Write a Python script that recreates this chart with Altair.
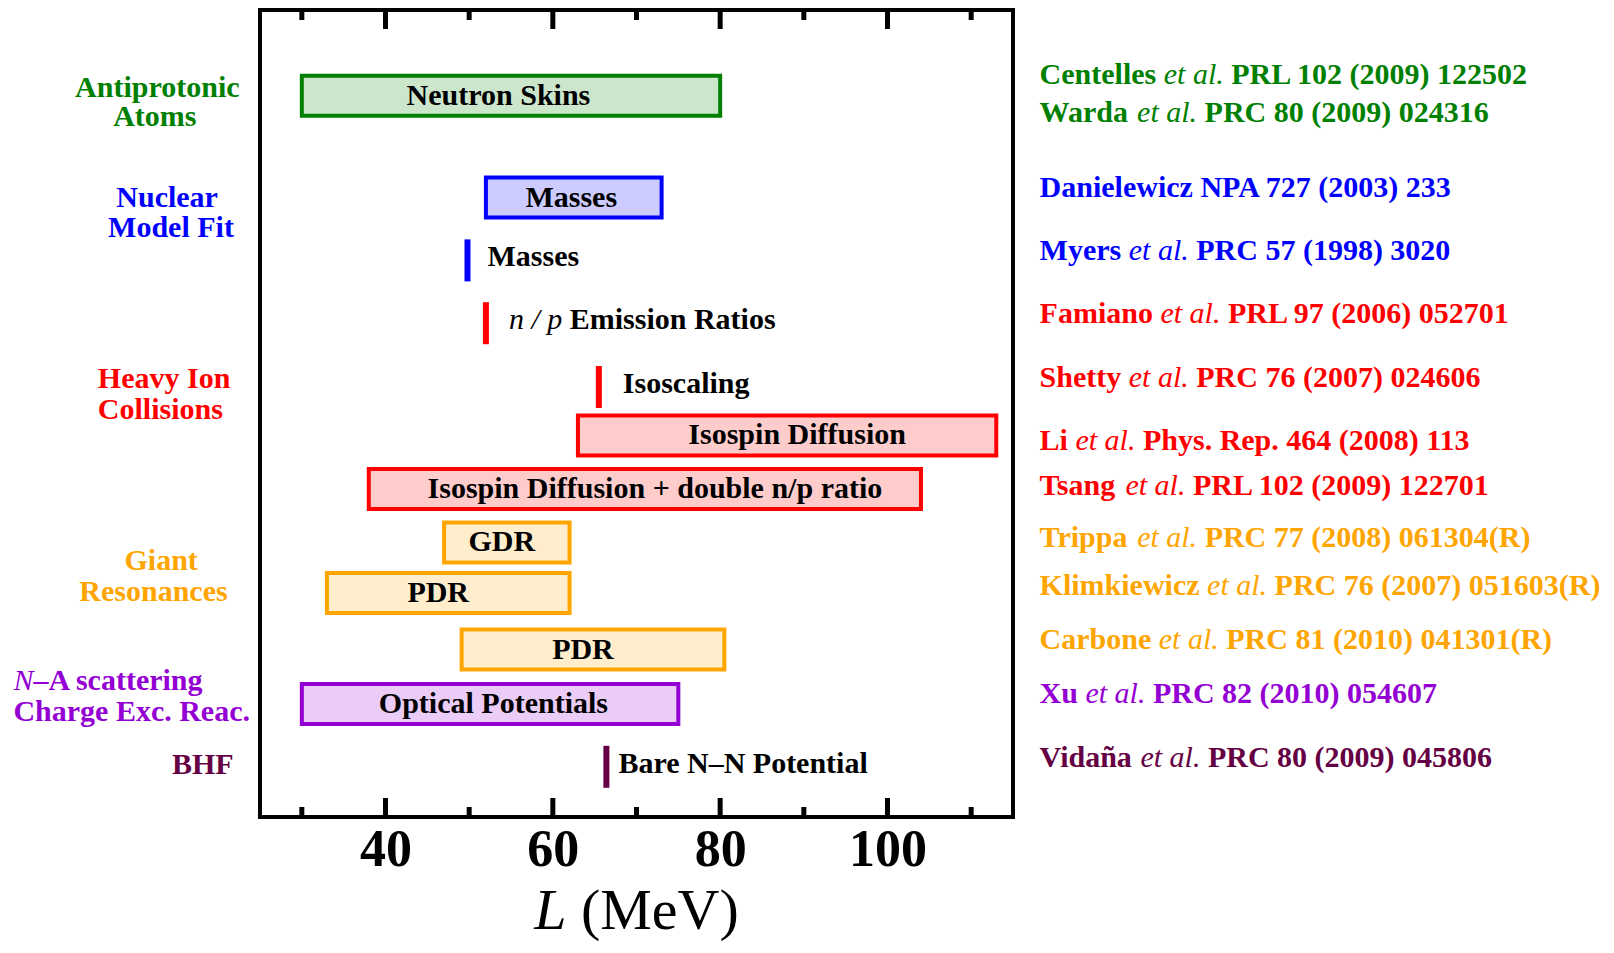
import altair as alt
import pandas as pd

# ------------------------------------------------------------------ data
X_MIN, X_MAX = 25, 115

# hatched boxes: L ranges (MeV)
box_text = ["Neutron Skins", "Masses", "Isospin Diffusion",
            "Isospin Diffusion + double n/p ratio", "GDR", "PDR", "PDR",
            "Optical Potentials"]
box_lo = [30.0, 52.0, 63.0, 38.0, 47.0, 33.0, 49.1, 30.0]
box_hi = [80.0, 73.0, 113.0, 104.0, 62.0, 62.0, 80.5, 75.0]
box_grp = ["ap", "nm", "hic", "hic", "gr", "gr", "gr", "na"]

# single-value results (thin vertical bars)
bar_prefix = ["", "n / p", "", ""]
bar_text = ["Masses", "Emission Ratios", "Isoscaling", "Bare N–N Potential"]
bar_at = [49.8, 52.0, 65.5, 66.4]
bar_grp = ["nm", "hic", "hic", "bhf"]

# category labels on the left
cat_prefix = ["", "", "", "", "", "", "", "", "N", "", ""]
cat_text = ["Antiprotonic", "Atoms", "Nuclear", "Model Fit", "Heavy Ion",
            "Collisions", "Giant", "Resonances", "–A scattering",
            "Charge Exc. Reac.", "BHF"]
cat_grp = ["ap", "ap", "nm", "nm", "hic", "hic", "gr", "gr", "na", "na", "bhf"]

# references on the right
ref_author = ["Centelles", "Warda", "Danielewicz NPA 727 (2003) 233", "Myers",
              "Famiano", "Shetty", "Li", "Tsang", "Trippa", "Klimkiewicz",
              "Carbone", "Xu", "Vidaña"]
ref_etal = [True, True, False, True, True, True, True, True, True, True,
            True, True, True]
ref_rest = ["PRL 102 (2009) 122502", "PRC 80 (2009) 024316", "",
            "PRC 57 (1998) 3020", "PRL 97 (2006) 052701",
            "PRC 76 (2007) 024606", "Phys. Rep. 464 (2008) 113",
            "PRL 102 (2009) 122701", "PRC 77 (2008) 061304(R)",
            "PRC 76 (2007) 051603(R)", "PRC 81 (2010) 041301(R)",
            "PRC 82 (2010) 054607", "PRC 80 (2009) 045806"]
ref_grp = ["ap", "ap", "nm", "nm", "hic", "hic", "hic", "hic", "gr", "gr",
           "gr", "na", "bhf"]

major_ticks = [40, 60, 80, 100]
minor_ticks = [30, 50, 70, 90, 110]

# ------------------------------------------------------------------ layout
W, H = 753, 807
PAD_L, PAD_T = 252, 2
ORG_X, ORG_Y = PAD_L + 8, PAD_T + 8          # page position of plot corner
PX = W / (X_MAX - X_MIN)
FS = 30
BOX_HALF = 20
BAR_HALF = 21

box_row = [85.7, 187.6, 425.4, 479.0, 532.4, 583.0, 639.5, 694.0]
box_label_at = [53.5, 62.2, 89.2, 72.2, 53.9, 46.3, 63.6, 52.9]
bar_row = [250.4, 313.2, 377.0, 756.8]
bar_label_gap = [20, 23, 24, 12]
cat_left = [75.1, 113.2, 116.3, 108.1, 97.8, 97.8, 124.5, 79.3, 13.4, 13.4, 171.9]
cat_y = [87.5, 117.3, 197.6, 227.5, 378.8, 409.7, 561, 592, 681.4, 712.3, 765]
ref_left = 1039.6
ref_y = [75.1, 113.2, 188.4, 251.2, 314.0, 377.8, 440.6, 485.8, 538.3,
         585.7, 640.2, 693.8, 757.6]

GRP_DOMAIN = ["ap", "nm", "hic", "gr", "na", "bhf", "k"]
GRP_RANGE = ["#008000", "#0000ff", "#ff0000", "#ffa500", "#9400d3",
             "#660044", "#000000"]

# Times metrics (1/1000 em) for placing mixed-style text runs
BOLD = {' ': 250, '(': 333, ')': 333, '.': 250, '/': 278, '+': 570, '–': 500,
        'A': 722, 'B': 667, 'C': 722, 'D': 722, 'E': 667, 'F': 611, 'G': 778,
        'H': 778, 'I': 389, 'K': 778, 'L': 667, 'M': 944, 'N': 722, 'P': 611,
        'R': 722, 'S': 556, 'T': 667, 'V': 722, 'W': 1000, 'X': 722,
        'a': 500, 'b': 556, 'c': 444, 'd': 556, 'e': 444, 'f': 333, 'g': 500,
        'h': 556, 'i': 278, 'j': 333, 'k': 556, 'l': 278, 'm': 833, 'n': 556,
        'o': 500, 'p': 556, 'r': 444, 's': 389, 't': 333, 'u': 556, 'v': 500,
        'w': 722, 'x': 500, 'y': 500, 'z': 444, 'ñ': 556}
ITAL = {' ': 250, '.': 250, '/': 278, 'a': 500, 'e': 444, 'l': 278, 'n': 500,
        'p': 500, 't': 278, 'N': 667, 'L': 556}
ROMAN = {' ': 250, '(': 333, ')': 333, 'M': 889, 'e': 444, 'V': 722}


def tw(s, table, size):
    return sum(table.get(c, 500) for c in s) * size / 1000.0


def xd(px_page):
    return X_MIN + (px_page - ORG_X) / PX


def yd(py_page):
    return py_page - ORG_Y


# ------------------------------------------------------------------ tables
boxes = pd.DataFrame({
    "lo": box_lo, "hi": box_hi, "g": box_grp, "label": box_text,
    "lx": box_label_at,
    "top": [r - BOX_HALF for r in box_row],
    "bot": [r + BOX_HALF for r in box_row],
    "row": box_row,
})
bars = pd.DataFrame({
    "at": bar_at, "g": bar_grp,
    "top": [r - BAR_HALF for r in bar_row],
    "bot": [r + BAR_HALF for r in bar_row],
})

bold_rows, ital_rows = [], []

# labels beside the single-value bars
for pre, txt, at, row, gap in zip(bar_prefix, bar_text, bar_at, bar_row,
                                  bar_label_gap):
    x0 = ORG_X + (at - X_MIN) * PX + gap
    if pre:
        ital_rows.append({"t": pre, "x": xd(x0), "y": row - 3, "g": "k"})
        x0 += tw(pre + " ", ITAL, FS)
    bold_rows.append({"t": txt, "x": xd(x0), "y": row - 3, "g": "k"})

# category labels
for pre, txt, g, xl, yc in zip(cat_prefix, cat_text, cat_grp, cat_left, cat_y):
    x0 = xl
    if pre:
        ital_rows.append({"t": pre, "x": xd(x0), "y": yd(yc), "g": g})
        x0 += tw(pre, ITAL, FS)
    bold_rows.append({"t": txt, "x": xd(x0), "y": yd(yc), "g": g})

# references
for a, e, r, g, yc in zip(ref_author, ref_etal, ref_rest, ref_grp, ref_y):
    x0 = ref_left
    bold_rows.append({"t": a, "x": xd(x0), "y": yd(yc), "g": g})
    if e:
        x0 += tw(a + " ", BOLD, FS)
        ital_rows.append({"t": "et al.", "x": xd(x0), "y": yd(yc), "g": g})
        x0 += tw("et al. ", ITAL, FS)
        bold_rows.append({"t": r, "x": xd(x0), "y": yd(yc), "g": g})

# axis title  "L (MeV)"  (alphabetic baseline)
TFS = 58
title_cx, title_base = ORG_X + W / 2, 929
t_w = tw("L", ITAL, TFS) + tw(" (MeV)", ROMAN, TFS)
tx0 = title_cx - t_w / 2
title_ital = pd.DataFrame([{"t": "L", "x": xd(tx0), "y": yd(title_base), "g": "k"}])
title_rom = pd.DataFrame([{"t": "(MeV)", "x": xd(tx0 + tw("L ", ITAL, TFS)),
                           "y": yd(title_base), "g": "k"}])

bold_df = pd.DataFrame(bold_rows)
ital_df = pd.DataFrame(ital_rows)
ticks_major = pd.DataFrame({"v": major_ticks})
ticks_minor = pd.DataFrame({"v": minor_ticks})

# ------------------------------------------------------------------ scales
xs = alt.Scale(domain=[X_MIN, X_MAX], nice=False, zero=False)
ys = alt.Scale(domain=[0, H], reverse=True, nice=False, zero=False)
cs = alt.Scale(domain=GRP_DOMAIN, range=GRP_RANGE)
xa = alt.Axis(values=major_ticks, ticks=False, tickSize=0, domain=False,
              grid=False, labelFontSize=52, labelFontWeight="bold",
              labelFont="Liberation Serif", labelColor="black",
              labelPadding=7, labelOverlap=False, title=None)


def X(f):
    return alt.X(f, scale=xs, axis=xa, title=None)


def Y(f):
    return alt.Y(f, scale=ys, axis=None, title=None)


rects = alt.Chart(boxes).mark_rect(strokeWidth=4, fillOpacity=0.2).encode(
    x=X("lo:Q"), x2="hi:Q", y=Y("top:Q"), y2="bot:Q",
    fill=alt.Fill("g:N", scale=cs, legend=None),
    stroke=alt.Stroke("g:N", scale=cs, legend=None),
)
box_labels = alt.Chart(boxes).mark_text(
    font="Liberation Serif", fontSize=FS, fontWeight="bold", align="center",
    baseline="middle", color="black",
).encode(x=X("lx:Q"), y=Y("row:Q"), text="label:N")

bar_rules = alt.Chart(bars).mark_rule(strokeWidth=6).encode(
    x=X("at:Q"), y=Y("top:Q"), y2="bot:Q",
    color=alt.Color("g:N", scale=cs, legend=None),
)


def text_layer(df, size, weight, style, baseline="middle"):
    return alt.Chart(df).mark_text(
        font="Liberation Serif", fontSize=size, fontWeight=weight,
        fontStyle=style, align="left", baseline=baseline,
    ).encode(x=X("x:Q"), y=Y("y:Q"), text="t:N",
             color=alt.Color("g:N", scale=cs, legend=None))


bold_txt = text_layer(bold_df, FS, "bold", "normal")
ital_txt = text_layer(ital_df, FS, "normal", "italic")
title_l = text_layer(title_ital, TFS, "normal", "italic", "alphabetic")
title_r = text_layer(title_rom, TFS, "normal", "normal", "alphabetic")

MAJ, MIN_ = 19, 10
tick_layers = [
    alt.Chart(ticks_major).mark_rule(strokeWidth=5, color="black").encode(
        x=X("v:Q"), y=alt.value(0), y2=alt.value(MAJ)),
    alt.Chart(ticks_major).mark_rule(strokeWidth=5, color="black").encode(
        x=X("v:Q"), y=alt.value(H), y2=alt.value(H - MAJ)),
    alt.Chart(ticks_minor).mark_rule(strokeWidth=5, color="black").encode(
        x=X("v:Q"), y=alt.value(0), y2=alt.value(MIN_)),
    alt.Chart(ticks_minor).mark_rule(strokeWidth=5, color="black").encode(
        x=X("v:Q"), y=alt.value(H), y2=alt.value(H - MIN_)),
]

chart = alt.layer(
    rects, box_labels, bar_rules, bold_txt, ital_txt, title_l, title_r,
    *tick_layers,
).properties(
    width=W, height=H,
    autosize=alt.AutoSizeParams(type="none"),
    padding={"left": PAD_L, "top": PAD_T, "right": 590, "bottom": 125},
).configure(
    font="Liberation Serif", background="white",
).configure_view(
    stroke="black", strokeWidth=4,
)

chart.save("out.html", embed_options={"renderer": "svg", "actions": False})
